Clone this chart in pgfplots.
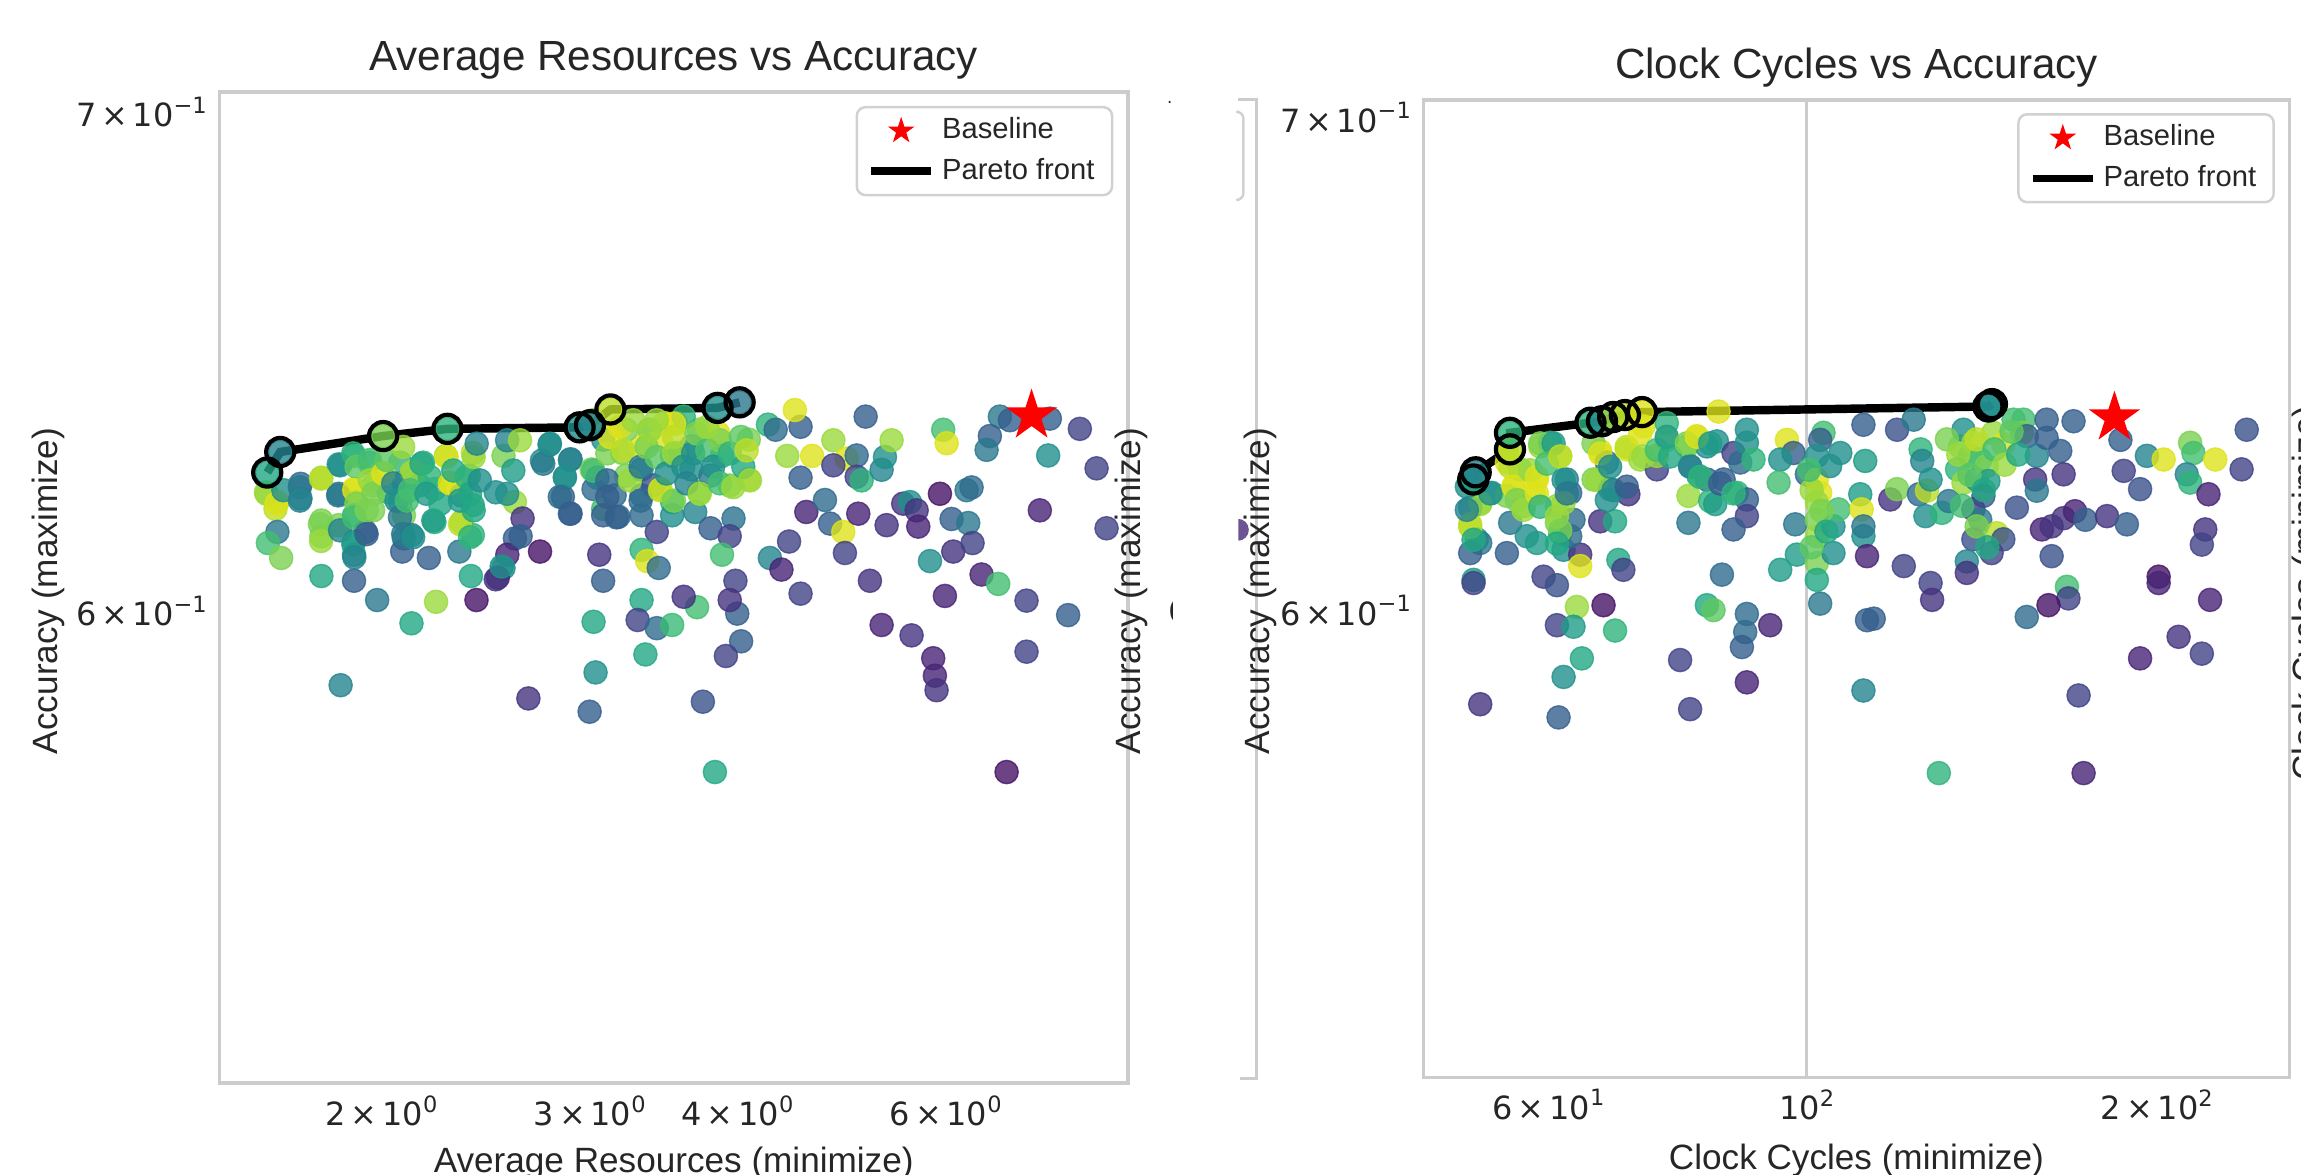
\documentclass[border=0pt]{standalone}
\usepackage{fontspec}
\setmainfont{Liberation Sans}
\newfontfamily\dejavu{DejaVu Sans}
\usepackage{pgfplots}
\usepackage{pgfplotstable}
\pgfplotsset{compat=1.18}

\definecolor{framegray}{gray}{0.80}
\definecolor{legendgray}{gray}{0.82}
\definecolor{txt}{gray}{0.15}
\definecolor{vpurple}{rgb}{0.28,0.16,0.47}

\pgfdeclareplotmark{fstar}{%
 \pgfpathmoveto{\pgfpointpolar{90}{\pgfplotmarksize}}%
 \pgfpathlineto{\pgfpointpolar{126}{0.382\pgfplotmarksize}}%
 \pgfpathlineto{\pgfpointpolar{162}{\pgfplotmarksize}}%
 \pgfpathlineto{\pgfpointpolar{198}{0.382\pgfplotmarksize}}%
 \pgfpathlineto{\pgfpointpolar{234}{\pgfplotmarksize}}%
 \pgfpathlineto{\pgfpointpolar{270}{0.382\pgfplotmarksize}}%
 \pgfpathlineto{\pgfpointpolar{306}{\pgfplotmarksize}}%
 \pgfpathlineto{\pgfpointpolar{342}{0.382\pgfplotmarksize}}%
 \pgfpathlineto{\pgfpointpolar{18}{\pgfplotmarksize}}%
 \pgfpathlineto{\pgfpointpolar{54}{0.382\pgfplotmarksize}}%
 \pgfpathclose\pgfusepathqfill}

\newcommand{\sps}[1]{\raisebox{0.42em}{\fontsize{6.4}{7}\selectfont #1}}
\newcommand{\tl}[2]{#1\hspace{0.15em}×\hspace{0.15em}10\sps{#2}}

\pgfplotstableread{
x y c
1.597 0.6224 0.85
1.633 0.6205 0.95
1.627 0.6192 0.90
1.708 0.6240 0.35
1.708 0.6212 0.40
1.779 0.6252 0.85
1.633 0.6148 0.40
1.603 0.6127 0.70
1.645 0.6099 0.80
1.779 0.6170 0.80
1.779 0.6140 0.80
1.840 0.6278 0.50
1.840 0.6221 0.42
1.840 0.6161 0.80
1.896 0.6294 0.65
1.896 0.6230 0.95
1.903 0.6205 0.80
1.896 0.6180 0.65
1.896 0.6130 0.60
1.896 0.6105 0.50
1.953 0.6281 0.65
1.968 0.6237 0.80
1.968 0.6189 0.80
1.939 0.6148 0.30
1.997 0.6262 0.95
2.028 0.6224 0.65
2.074 0.6281 0.65
2.089 0.6243 0.40
2.074 0.6205 0.50
2.089 0.6180 0.80
2.089 0.6136 0.45
2.082 0.6111 0.30
2.120 0.6262 0.85
2.120 0.6142 0.42
2.169 0.6281 0.65
2.152 0.6237 0.65
2.217 0.6230 0.65
2.217 0.6167 0.65
2.193 0.6099 0.30
2.267 0.6294 0.85
2.284 0.6243 0.95
2.336 0.6218 0.50
2.336 0.6167 0.85
2.327 0.6111 0.40
2.389 0.6300 0.90
2.371 0.6256 0.65
2.389 0.6199 0.60
2.389 0.6142 0.65
2.536 0.6294 0.80
2.498 0.6224 0.50
2.593 0.6205 0.85
2.632 0.6174 0.15
2.593 0.6136 0.30
2.555 0.6105 0.10
2.536 0.6080 0.50
2.508 0.6062 0.10
2.733 0.6285 0.50
2.774 0.6316 0.45
2.890 0.6288 0.40
2.858 0.6252 0.50
2.847 0.6215 0.30
2.890 0.6183 0.30
2.723 0.6111 0.05
3.011 0.6268 0.80
3.022 0.6230 0.35
3.079 0.6192 0.70
3.079 0.6180 0.30
3.149 0.6218 0.35
3.220 0.6256 0.80
3.172 0.6177 0.35
3.318 0.6268 0.50
3.318 0.6218 0.35
3.393 0.6237 0.25
3.318 0.6180 0.35
3.418 0.6148 0.20
3.318 0.6114 0.65
3.355 0.6093 0.95
3.431 0.6080 0.35
3.368 0.6345 0.70
3.470 0.6358 0.95
3.549 0.6358 0.95
3.562 0.6300 0.85
3.444 0.6230 0.95
3.522 0.6205 0.65
3.522 0.6180 0.50
3.684 0.6186 0.45
3.711 0.6224 0.80
3.795 0.6155 0.30
3.969 0.6174 0.38
3.940 0.6140 0.20
3.881 0.6105 0.70
3.711 0.6345 0.80
3.852 0.6339 0.95
4.088 0.6326 0.80
4.088 0.6249 0.95
3.940 0.6237 0.80
3.657 0.6268 0.50
3.795 0.6256 0.42
3.522 0.6294 0.65
3.657 0.6313 0.50
3.881 0.6294 0.65
3.196 0.6300 0.80
3.318 0.6313 0.95
3.220 0.6345 0.80
3.444 0.6326 0.95
3.602 0.6371 0.65
3.079 0.6326 0.50
3.045 0.6252 0.40
4.244 0.6355 0.65
4.308 0.6345 0.35
4.522 0.6351 0.30
4.472 0.6384 0.95
4.625 0.6294 0.95
4.406 0.6294 0.85
4.522 0.6252 0.30
4.573 0.6186 0.10
4.422 0.6130 0.20
4.260 0.6099 0.45
4.357 0.6077 0.10
4.522 0.6032 0.20
3.984 0.6056 0.20
3.998 0.5995 0.30
3.940 0.6020 0.15
3.697 0.6007 0.70
3.602 0.6026 0.15
3.318 0.6020 0.60
3.293 0.5983 0.20
3.418 0.5968 0.35
3.522 0.5974 0.68
4.028 0.5944 0.30
3.911 0.5917 0.20
3.343 0.5920 0.60
3.022 0.5980 0.60
3.034 0.5887 0.50
3.079 0.6056 0.30
3.056 0.6105 0.15
3.739 0.5834 0.25
2.999 0.5816 0.30
2.662 0.5840 0.15
2.120 0.5977 0.60
1.847 0.5864 0.45
2.406 0.6020 0.05
2.224 0.6017 0.85
1.983 0.6020 0.40
1.896 0.6056 0.30
1.779 0.6065 0.60
2.380 0.6065 0.60
2.498 0.6059 0.15
2.527 0.6083 0.50
2.622 0.6140 0.30
5.133 0.6371 0.30
4.820 0.6325 0.85
4.946 0.6289 0.95
5.044 0.6295 0.35
5.044 0.6254 0.20
5.093 0.6247 0.65
4.820 0.6276 0.20
5.295 0.6267 0.45
5.330 0.6292 0.50
5.399 0.6325 0.85
4.742 0.6209 0.35
4.789 0.6164 0.30
4.914 0.6148 0.95
5.060 0.6183 0.10
5.347 0.6161 0.15
5.523 0.6202 0.15
5.595 0.6205 0.50
5.669 0.6189 0.15
5.687 0.6158 0.10
5.932 0.6221 0.05
6.248 0.6228 0.40
6.309 0.6233 0.35
6.068 0.6173 0.30
6.268 0.6165 0.40
6.088 0.6111 0.15
6.321 0.6127 0.20
5.818 0.6093 0.50
6.433 0.6068 0.10
6.645 0.6050 0.70
5.990 0.6028 0.10
5.176 0.6056 0.15
4.930 0.6108 0.20
5.295 0.5974 0.10
5.613 0.5955 0.15
5.855 0.5913 0.10
5.874 0.5881 0.10
5.893 0.5855 0.15
7.022 0.6019 0.20
7.615 0.5992 0.30
7.022 0.5925 0.20
6.754 0.5709 0.05
7.206 0.6189 0.10
8.047 0.6270 0.20
8.205 0.6155 0.20
7.790 0.6347 0.20
7.324 0.6295 0.50
7.348 0.6367 0.30
6.666 0.6371 0.40
6.798 0.6364 0.30
6.538 0.6333 0.30
6.496 0.6306 0.40
5.970 0.6345 0.70
6.010 0.6319 0.95
3.828 0.5709 0.60
1.599 0.6221 0.85
1.630 0.6202 0.95
1.652 0.6228 0.50
1.706 0.6234 0.40
1.706 0.6208 0.45
1.778 0.6250 0.90
1.774 0.6163 0.80
1.778 0.6131 0.85
1.845 0.6276 0.50
1.838 0.6218 0.40
1.845 0.6151 0.45
1.893 0.6299 0.65
1.905 0.6273 0.75
1.897 0.6228 0.95
1.905 0.6202 0.80
1.897 0.6176 0.70
1.893 0.6125 0.55
1.897 0.6100 0.45
1.955 0.6286 0.70
1.955 0.6247 0.85
1.969 0.6221 0.80
1.943 0.6189 0.80
1.943 0.6144 0.30
2.007 0.6260 0.95
2.020 0.6286 0.75
2.046 0.6241 0.45
2.059 0.6208 0.50
2.073 0.6176 0.40
2.086 0.6144 0.40
2.086 0.6312 0.85
2.127 0.6263 0.85
2.114 0.6228 0.70
2.101 0.6208 0.70
2.127 0.6138 0.50
2.162 0.6279 0.60
2.197 0.6254 0.65
2.183 0.6221 0.55
2.212 0.6170 0.55
2.242 0.6202 0.60
2.270 0.6292 0.95
2.285 0.6241 0.95
2.300 0.6266 0.60
2.330 0.6163 0.90
2.330 0.6208 0.55
2.360 0.6254 0.65
2.393 0.6292 0.85
2.376 0.6221 0.60
2.393 0.6189 0.60
2.376 0.6138 0.65
2.407 0.6318 0.45
2.422 0.6247 0.50
2.554 0.6325 0.45
2.619 0.6325 0.85
2.585 0.6266 0.55
2.554 0.6221 0.50
2.740 0.6279 0.40
2.776 0.6318 0.50
2.886 0.6286 0.45
2.858 0.6254 0.50
2.830 0.6215 0.35
2.886 0.6183 0.30
3.020 0.6364 0.80
3.020 0.6266 0.70
3.104 0.6299 0.80
3.120 0.6331 0.95
3.181 0.6351 0.95
3.202 0.6305 0.90
3.104 0.6247 0.35
3.104 0.6215 0.30
3.161 0.6176 0.30
3.244 0.6247 0.85
3.312 0.6273 0.40
3.312 0.6208 0.35
3.351 0.6312 0.80
3.373 0.6344 0.85
3.417 0.6292 0.75
3.439 0.6228 0.90
3.484 0.6260 0.50
3.535 0.6357 0.95
3.535 0.6331 0.90
3.535 0.6299 0.85
3.535 0.6208 0.80
3.599 0.6273 0.50
3.669 0.6299 0.50
3.622 0.6241 0.45
3.717 0.6221 0.85
3.693 0.6338 0.80
3.772 0.6305 0.70
3.815 0.6273 0.50
3.865 0.6325 0.80
3.865 0.6241 0.70
3.941 0.6299 0.65
3.967 0.6234 0.85
4.026 0.6331 0.75
4.045 0.6273 0.60
4.071 0.6305 0.90
4.098 0.6247 0.85
3.772 0.6351 0.85
3.417 0.6364 0.85
3.265 0.6364 0.85
1.601 0.6262 0.60
1.642 0.6302 0.45
2.006 0.6333 0.80
2.274 0.6347 0.65
2.941 0.6350 0.50
3.001 0.6354 0.45
3.123 0.6385 0.90
3.848 0.6388 0.50
4.016 0.6399 0.40
}\leftdata

\pgfplotstableread{
x y
1.601 0.6262
1.642 0.6302
2.006 0.6333
2.274 0.6347
2.941 0.6350
3.001 0.6354
3.123 0.6385
3.848 0.6388
4.016 0.6399
}\leftpareto

\pgfplotstableread{
x y c
51.39 0.6251 0.50
53.63 0.6225 0.50
52.42 0.6203 0.85
51.39 0.6196 0.45
51.39 0.6164 0.90
52.08 0.6135 0.60
52.42 0.6128 0.40
51.39 0.6109 0.30
51.73 0.6058 0.55
51.73 0.6052 0.20
55.26 0.6284 0.95
55.26 0.6303 0.95
55.99 0.6238 0.95
55.26 0.6219 0.80
55.62 0.6167 0.40
55.26 0.6109 0.30
57.48 0.6141 0.50
58.64 0.6128 0.55
58.64 0.6251 0.95
58.26 0.6225 0.95
59.03 0.6316 0.85
56.73 0.6271 0.80
57.11 0.6199 0.80
60.21 0.6323 0.65
61.41 0.6297 0.90
62.22 0.6251 0.45
62.64 0.6225 0.35
61.01 0.6199 0.85
61.01 0.6167 0.80
61.41 0.6147 0.70
61.82 0.6115 0.50
63.05 0.6173 0.35
63.89 0.6106 0.15
63.89 0.6084 0.95
62.64 0.6141 0.35
59.42 0.6064 0.20
61.01 0.6048 0.25
63.47 0.6007 0.85
61.01 0.5973 0.20
63.05 0.5970 0.55
66.91 0.6010 0.05
68.46 0.5963 0.65
64.10 0.5911 0.60
61.82 0.5877 0.50
52.42 0.5827 0.15
61.21 0.5803 0.30
65.60 0.6251 0.80
66.47 0.6307 0.95
67.35 0.6284 0.35
67.79 0.6232 0.50
66.47 0.6170 0.15
68.46 0.6170 0.60
70.28 0.6222 0.15
68.91 0.6096 0.60
69.59 0.6077 0.20
70.05 0.6310 0.95
71.94 0.6290 0.85
72.42 0.6356 0.95
74.36 0.6271 0.20
74.36 0.6297 0.85
75.84 0.6362 0.65
75.84 0.6329 0.80
78.90 0.6316 0.80
80.47 0.6336 0.95
82.09 0.6316 0.50
83.73 0.6326 0.50
84.01 0.6385 0.95
79.42 0.6277 0.40
80.74 0.6258 0.60
82.09 0.6251 0.35
84.85 0.6251 0.30
86.54 0.6303 0.20
87.69 0.6284 0.35
88.85 0.6349 0.50
88.85 0.6323 0.50
90.03 0.6290 0.65
87.12 0.6225 0.65
88.85 0.6212 0.30
88.85 0.6180 0.20
86.54 0.6154 0.30
79.16 0.6219 0.85
79.16 0.6167 0.40
82.63 0.6209 0.65
83.46 0.6203 0.55
84.57 0.6068 0.35
82.09 0.6010 0.60
83.18 0.6001 0.75
88.85 0.5994 0.35
88.56 0.5960 0.35
87.98 0.5932 0.30
93.05 0.5973 0.10
77.87 0.5908 0.20
79.42 0.5818 0.20
88.85 0.5867 0.10
96.18 0.6329 0.95
97.45 0.6303 0.30
94.91 0.6290 0.50
94.60 0.6245 0.70
97.77 0.6164 0.40
98.09 0.6106 0.55
94.91 0.6077 0.55
100.05 0.6261 0.35
102.04 0.6251 0.95
102.72 0.6225 0.95
102.04 0.6206 0.85
103.40 0.6343 0.70
102.72 0.6329 0.30
102.04 0.6297 0.50
106.9 0.6303 0.50
104.77 0.6277 0.50
102.04 0.6173 0.80
102.04 0.6141 0.85
102.04 0.6090 0.80
102.04 0.6058 0.60
105.46 0.6160 0.50
105.46 0.6109 0.50
106.51 0.6193 0.70
102.72 0.6013 0.40
111.9 0.6359 0.30
112.3 0.6287 0.55
111.2 0.6222 0.55
111.5 0.6193 0.95
111.9 0.6141 0.50
112.7 0.6103 0.10
112.7 0.5982 0.30
111.9 0.5852 0.45
119.6 0.6349 0.25
123.6 0.6369 0.40
125.3 0.6310 0.65
125.7 0.6287 0.45
111.9 0.6160 0.40
118.0 0.6212 0.15
119.6 0.6232 0.80
124.9 0.6222 0.35
126.9 0.6229 0.90
127.8 0.6251 0.50
126.5 0.6180 0.50
130.7 0.6186 0.65
132.5 0.6209 0.40
121.2 0.6084 0.20
127.8 0.6052 0.20
128.2 0.6020 0.15
114.2 0.5985 0.30
129.9 0.5703 0.65
135.5 0.6316 0.80
136.4 0.6349 0.50
138.2 0.6297 0.70
134.7 0.6271 0.65
136.4 0.6245 0.85
139.1 0.6323 0.85
141.0 0.6290 0.70
140.0 0.6251 0.50
142.8 0.6277 0.80
144.7 0.6343 0.85
147.6 0.6320 0.95
150.6 0.6369 0.70
153.6 0.6369 0.70
153.1 0.6343 0.80
154.6 0.6336 0.30
143.3 0.6248 0.55
141.9 0.6219 0.30
139.1 0.6193 0.20
141.0 0.6173 0.40
139.1 0.6135 0.25
145.7 0.6147 0.90
147.6 0.6135 0.25
144.2 0.6109 0.20
137.3 0.6093 0.45
137.3 0.6071 0.15
151.6 0.6196 0.25
157.7 0.6297 0.45
157.2 0.6251 0.15
157.7 0.6229 0.40
160.8 0.6369 0.30
160.8 0.6333 0.30
165.2 0.6307 0.30
166.3 0.6261 0.15
159.3 0.6154 0.10
162.4 0.6160 0.15
166.3 0.6176 0.15
170.1 0.6189 0.10
173.6 0.6173 0.30
181.2 0.6180 0.15
188.5 0.6164 0.30
162.4 0.6103 0.25
169.6 0.6366 0.30
186.1 0.6329 0.30
187.3 0.6268 0.20
193.5 0.6232 0.25
196.1 0.6297 0.45
202.7 0.6290 0.95
213.6 0.6323 0.80
215.0 0.6303 0.70
212.2 0.6261 0.45
213.6 0.6245 0.65
224.5 0.6290 0.95
221.5 0.6222 0.10
220.1 0.6154 0.15
218.6 0.6125 0.20
238.9 0.6349 0.25
236.5 0.6271 0.20
200.7 0.6064 0.05
200.7 0.6052 0.10
222.2 0.6020 0.10
167.4 0.6045 0.70
167.9 0.6023 0.20
161.4 0.6010 0.05
154.6 0.5988 0.35
208.8 0.5951 0.15
193.5 0.5911 0.10
218.6 0.5920 0.20
171.3 0.5843 0.20
173.0 0.5703 0.10
52.42 0.6205 0.85
53.47 0.6224 0.50
55.26 0.6309 0.90
55.62 0.6276 0.90
55.99 0.6237 0.95
56.36 0.6211 0.80
57.11 0.6192 0.85
57.87 0.6269 0.85
58.64 0.6256 0.95
58.64 0.6224 0.95
59.03 0.6322 0.80
59.03 0.6198 0.65
60.61 0.6322 0.55
59.81 0.6282 0.70
61.41 0.6296 0.90
61.82 0.6250 0.50
61.82 0.6205 0.85
61.01 0.6179 0.85
61.41 0.6152 0.80
62.22 0.6224 0.40
61.01 0.6127 0.60
65.60 0.6322 0.80
66.47 0.6302 0.95
66.03 0.6250 0.85
67.79 0.6276 0.50
68.25 0.6230 0.45
67.35 0.6211 0.50
70.05 0.6315 0.90
71.94 0.6342 0.95
72.42 0.6296 0.85
70.05 0.6237 0.30
74.36 0.6309 0.70
75.84 0.6335 0.55
76.35 0.6296 0.60
78.90 0.6322 0.80
80.47 0.6335 0.95
79.42 0.6276 0.45
81.01 0.6256 0.65
82.63 0.6322 0.55
84.28 0.6243 0.30
86.54 0.6224 0.65
51.05 0.6237 0.50
51.39 0.6159 0.90
51.73 0.6134 0.60
51.05 0.6192 0.45
132.0 0.6330 0.80
135.0 0.6300 0.85
138.0 0.6260 0.75
140.0 0.6330 0.90
142.0 0.6230 0.60
145.0 0.6310 0.70
148.0 0.6280 0.85
150.0 0.6345 0.75
136.0 0.6200 0.70
140.0 0.6160 0.80
143.0 0.6120 0.60
152.0 0.6300 0.60
101.0 0.6230 0.85
103.0 0.6190 0.80
101.0 0.6120 0.75
104.0 0.6150 0.60
100.5 0.6270 0.70
51.70 0.6251 0.55
51.95 0.6265 0.45
55.60 0.6310 0.90
55.60 0.6343 0.65
65.20 0.6363 0.65
66.70 0.6366 0.50
68.20 0.6374 0.85
69.80 0.6378 0.90
72.20 0.6384 0.95
143.3 0.6395 0.45
144.3 0.6400 0.50
}\rightdata

\pgfplotstableread{
x y
51.70 0.6251
51.95 0.6265
55.60 0.6310
55.60 0.6343
65.20 0.6363
66.70 0.6366
68.20 0.6374
69.80 0.6378
72.20 0.6384
143.3 0.6395
144.3 0.6400
}\rightpareto

\begin{document}
\begin{tikzpicture}
\useasboundingbox (0,0) rectangle (23.01,11.74);

% ---- left panel
\begin{axis}[xmode=log, ymode=log, scale only axis,
  at={(2.192cm,0.910cm)}, anchor=south west,
  width=9.088cm, height=9.911cm,
  xmin=1.458, xmax=8.555, ymin=0.5186, ymax=0.7043,
  axis line style={framegray, line width=0.9pt},
  major tick length=0pt, minor tick length=0pt,
  xticklabel style={font=\dejavu\fontsize{9.1}{11}\selectfont, text=txt},
  yticklabel style={font=\dejavu\fontsize{9.1}{11}\selectfont, text=txt},
  colormap/viridis, point meta min=0, point meta max=1,
  legend cell align=left,
  legend style={font=\fontsize{8.3}{10}\selectfont, text=txt, draw=legendgray,
      line width=0.7pt, rounded corners=2.5pt, fill=white,
      at={(1,1)}, anchor=north east, xshift=-0.147cm, yshift=-0.14cm,
      inner xsep=3pt, inner ysep=1pt, row sep=0pt},
  xtick={2,3,4,6}, xticklabels={\tl{2}{0},\tl{3}{0},\tl{4}{0},\tl{6}{0}},
  ytick={0.6,0.7}, yticklabels={\tl{6}{−1},\tl{7}{−1}},
]
\addlegendimage{only marks, mark=fstar, mark size=4pt, red, mark options={fill=red, draw=red}}
\addlegendentry{Baseline}
\addlegendimage{black, line width=2.2pt}
\addlegendentry{Pareto front}
\addplot[scatter, only marks, mark=*, mark size=3.3pt, forget plot,
    point meta=explicit,
    scatter/use mapped color={draw=mapped color, fill=mapped color, fill opacity=0.8, draw opacity=0.8}]
    table[x=x, y=y, meta=c] {\leftdata};
\addplot[black, line width=2.4pt, forget plot] table[x=x, y=y] {\leftpareto};
\addplot[only marks, mark=o, mark size=4pt, forget plot, mark options={draw=black, line width=1.2pt}] table[x=x, y=y] {\leftpareto};
\addplot[only marks, mark=fstar, mark size=7.7pt, red, forget plot, mark options={fill=red, draw=red}] coordinates {(7.091,0.6373)};
\end{axis}

% ---- right panel
\begin{axis}[xmode=log, ymode=log, scale only axis,
  at={(14.232cm,0.969cm)}, anchor=south west,
  width=8.664cm, height=9.771cm,
  xmin=46.83, xmax=260.1, ymin=0.5186, ymax=0.7038,
  axis line style={framegray, line width=0.9pt},
  major tick length=0pt, minor tick length=0pt,
  xticklabel style={font=\dejavu\fontsize{9.1}{11}\selectfont, text=txt},
  yticklabel style={font=\dejavu\fontsize{9.1}{11}\selectfont, text=txt},
  colormap/viridis, point meta min=0, point meta max=1,
  major grid style={framegray, line width=0.7pt},
  legend cell align=left,
  legend style={font=\fontsize{8.3}{10}\selectfont, text=txt, draw=legendgray,
      line width=0.7pt, rounded corners=2.5pt, fill=white,
      at={(1,1)}, anchor=north east, xshift=-0.147cm, yshift=-0.13cm,
      inner xsep=3pt, inner ysep=1pt, row sep=0pt},
  xtick={60,200}, xticklabels={\tl{6}{1},\tl{2}{2}},
  extra x ticks={100}, extra x tick labels={10\sps{2}},
  extra x tick style={grid=major},
  ytick={0.6,0.7}, yticklabels={\tl{6}{−1},\tl{7}{−1}},
]
\addlegendimage{only marks, mark=fstar, mark size=4pt, red, mark options={fill=red, draw=red}}
\addlegendentry{Baseline}
\addlegendimage{black, line width=2.2pt}
\addlegendentry{Pareto front}
\addplot[scatter, only marks, mark=*, mark size=3.3pt, forget plot,
    point meta=explicit,
    scatter/use mapped color={draw=mapped color, fill=mapped color, fill opacity=0.8, draw opacity=0.8}]
    table[x=x, y=y, meta=c] {\rightdata};
\addplot[black, line width=2.4pt, forget plot] table[x=x, y=y] {\rightpareto};
\addplot[only marks, mark=o, mark size=4pt, forget plot, mark options={draw=black, line width=1.2pt}] table[x=x, y=y] {\rightpareto};
\addplot[only marks, mark=fstar, mark size=7.7pt, red, forget plot, mark options={fill=red, draw=red}] coordinates {(183.9,0.6373)};
\end{axis}

% ---- titles and labels
\node[anchor=base, font=\fontsize{12}{14}\selectfont, text=txt] at (6.737,11.031) {Average Resources vs Accuracy};
\node[anchor=base, font=\fontsize{12}{14}\selectfont, text=txt] at (18.564,10.955) {Clock Cycles vs Accuracy};
\node[anchor=base, font=\fontsize{10}{12}\selectfont, text=txt] at (6.737,0.015) {Average Resources (minimize)};
\node[anchor=base, font=\fontsize{10}{12}\selectfont, text=txt] at (18.564,0.044) {Clock Cycles (minimize)};
\node[rotate=90, font=\fontsize{10}{12}\selectfont, text=txt] at (0.480,5.83) {Accuracy (maximize)};
\node[rotate=90, font=\fontsize{10}{12}\selectfont, text=txt] at (11.314,5.83) {Accuracy (maximize)};

% ---- remains of the panel hidden in the middle
\draw[framegray, line width=0.9pt] (12.383,10.742) -- (12.568,10.742) -- (12.568,0.954) -- (12.40,0.954);
\draw[legendgray, line width=0.7pt, rounded corners=2pt] (12.383,10.623) -- (12.434,10.623) -- (12.434,9.740) -- (12.383,9.740);
\node[rotate=90, font=\fontsize{10}{12}\selectfont, text=txt] at (12.606,5.83) {Accuracy (maximize)};
\fill[txt] (11.696,10.72) circle (0.012);
\begin{scope}
\clip (11.6,5.3) rectangle (11.72,5.95);
\node[anchor=west, inner sep=0, font=\dejavu\fontsize{9.1}{11}\selectfont, text=txt] at (11.68,5.635) {6};
\end{scope}
\begin{scope}
\clip (12.383,6.2) rectangle (12.6,6.7);
\fill[vpurple, opacity=0.8] (12.378,6.442) circle (0.11);
\end{scope}
\node[rotate=90, anchor=north, inner sep=0, font=\fontsize{10}{12}\selectfont, text=txt] at (22.915,5.81) {Clock Cycles (minimize)};
\end{tikzpicture}
\end{document}
